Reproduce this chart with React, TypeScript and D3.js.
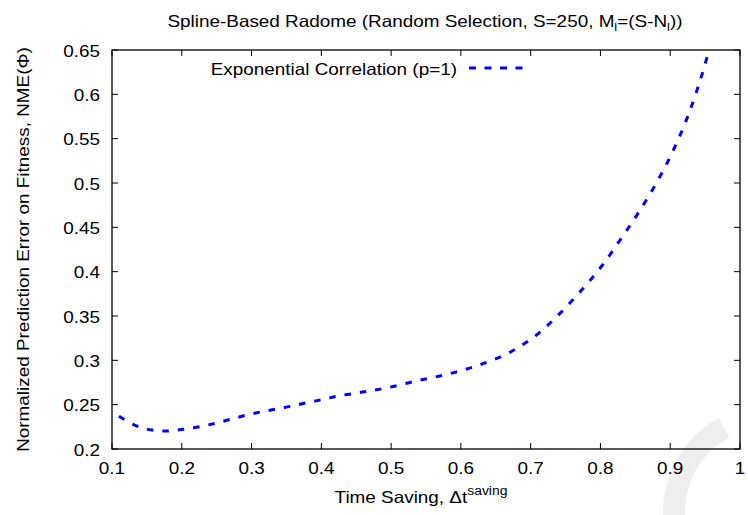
import React from "react";
import * as d3 from "d3";

const xValues = [0.11, 0.135, 0.157, 0.18, 0.202, 0.226, 0.248, 0.27, 0.293, 0.315, 0.336, 0.36, 0.381, 0.403, 0.424, 0.448, 0.47, 0.494, 0.538, 0.584, 0.627, 0.67, 0.709, 0.742, 0.775, 0.803, 0.831, 0.854, 0.878, 0.899, 0.918, 0.932, 0.945, 0.955, 0.962];
const yValues = [0.237, 0.226, 0.2214, 0.2203, 0.2222, 0.2252, 0.229, 0.2335, 0.2383, 0.2421, 0.2451, 0.2488, 0.2526, 0.256, 0.2598, 0.2628, 0.2657, 0.269, 0.277, 0.285, 0.295, 0.309, 0.329, 0.353, 0.381, 0.4075, 0.439, 0.466, 0.497, 0.528, 0.561, 0.59, 0.621, 0.648, 0.668];
const xTicks = [0.1, 0.2, 0.3, 0.4, 0.5, 0.6, 0.7, 0.8, 0.9, 1];
const yTicks = [0.2, 0.25, 0.3, 0.35, 0.4, 0.45, 0.5, 0.55, 0.6, 0.65];
const seriesName = "Exponential Correlation (p=1)";

const W = 748, H = 515;
const L = 112, R = 740, T = 50, B = 449;
const FONT = "'Liberation Sans', Arial, sans-serif";
const FS = 16.3;
const SX = 1.16;

export default function App() {
  const x = d3.scaleLinear().domain([0.1, 1]).range([L, R]);
  const y = d3.scaleLinear().domain([0.2, 0.65]).range([B, T]);
  const data = xValues.map((v, i) => [v, yValues[i]] as [number, number]);
  const line = d3.line<[number, number]>().x(d => x(d[0])).y(d => y(d[1])).curve(d3.curveCatmullRom.alpha(0.5));
  const arc = d3.arc()({ innerRadius: 85, outerRadius: 107, startAngle: -0.5, endAngle: -Math.PI + 0.05 } as any) as string;
  const tk = 6;
  const st = (px: number, py: number) => `translate(${px},${py}) scale(${SX},1)`;
  return (
    <svg width={W} height={H} style={{ position: "absolute", left: 0, top: 0, background: "#fff" }} fontFamily={FONT} fontSize={FS}>
      <path d={arc} transform="translate(770,512)" fill="#eeeeee" />
      <defs>
        <clipPath id="plot"><rect x={L} y={T} width={R - L} height={B - T} /></clipPath>
      </defs>
      <text transform={st((L + R) / 2 - 1, 27)} textAnchor="middle">
        Spline-Based Radome (Random Selection, S=250, M<tspan fontSize={11} dy={4}>l</tspan><tspan dy={-4}>=(S-N</tspan><tspan fontSize={11} dy={4}>l</tspan><tspan dy={-4}>))</tspan>
      </text>
      {xTicks.map(t => (
        <g key={"x" + t}>
          <line x1={x(t)} x2={x(t)} y1={B} y2={B - tk} stroke="#000" />
          <line x1={x(t)} x2={x(t)} y1={T} y2={T + tk} stroke="#000" />
          <text transform={st(x(t), 474)} textAnchor="middle">{String(t)}</text>
        </g>
      ))}
      {yTicks.map(t => (
        <g key={"y" + t}>
          <line x1={L} x2={L + tk} y1={y(t)} y2={y(t)} stroke="#000" />
          <line x1={R} x2={R - tk} y1={y(t)} y2={y(t)} stroke="#000" />
          <text transform={st(100, y(t) + 6.5)} textAnchor="end">{String(t)}</text>
        </g>
      ))}
      <rect x={L} y={T} width={R - L} height={B - T} fill="none" stroke="#000" strokeWidth={1.3} />
      <text transform={st((L + R) / 2 - 5, 503)} textAnchor="middle">
        Time Saving, Δt<tspan fontSize={12} dy={-8}>saving</tspan>
      </text>
      <text transform={`translate(29,${(T + B) / 2}) rotate(-90) scale(${SX},1)`} textAnchor="middle">
        Normalized Prediction Error on Fitness, NME(Φ)
      </text>
      <text transform={st(457, 75)} textAnchor="end">{seriesName}</text>
      <line x1={469} x2={524} y1={68} y2={68} stroke="#0000ff" strokeWidth={3} strokeDasharray="7,8.5" />
      <path d={line(data) as string} clipPath="url(#plot)" fill="none" stroke="#0000ff" strokeWidth={3} strokeDasharray="6.5,9" />
    </svg>
  );
}
